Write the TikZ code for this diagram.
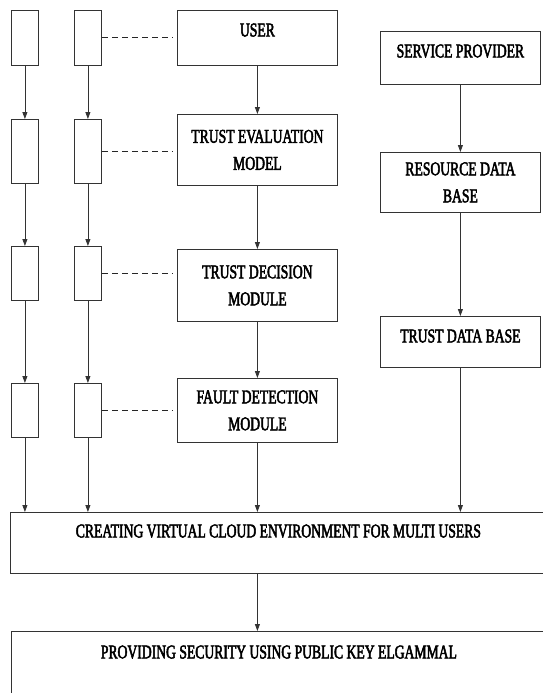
\documentclass[tikz,border=0pt]{standalone}
\usepackage{fontspec}
\setmainfont{Liberation Serif}[FakeStretch=0.7,FakeBold=2.5]
\usetikzlibrary{arrows.meta}

\begin{document}
\begin{tikzpicture}[x=1pt, y=-1pt,
    every node/.style={font=\fontsize{19.5}{27}\selectfont},
    box/.style={draw=black!80, line width=0.8pt, inner sep=0pt, anchor=north west, align=center},
    slot/.style={draw=black!80, line width=0.8pt, inner sep=0pt, anchor=north west, minimum width=27pt},
    arr/.style={draw=black!80, line width=0.8pt, -{Triangle[width=5pt, length=7pt]}},
    link/.style={draw=black!85, line width=0.9pt, dash pattern=on 6pt off 4pt, shorten >=5pt}]
  \useasboundingbox (0,0) rectangle (542,693);

  % the two columns of small boxes
  \node[slot, minimum height=55pt] (a1) at (11,10) {};
  \node[slot, minimum height=64pt] (a2) at (11,119) {};
  \node[slot, minimum height=54pt] (a3) at (11,246) {};
  \node[slot, minimum height=54pt] (a4) at (11,383) {};
  \node[slot, minimum height=55pt] (b1) at (74,10) {};
  \node[slot, minimum height=64pt] (b2) at (74,119) {};
  \node[slot, minimum height=54pt] (b3) at (74,246) {};
  \node[slot, minimum height=54pt] (b4) at (74,383) {};

  % middle column
  \node[box, minimum width=160pt, text height=26pt, text depth=29pt] (user) at (177,10) {USER};
  \node[box, minimum width=160pt, minimum height=71pt] (teval) at (177,114) {TRUST EVALUATION\\MODEL};
  \node[box, minimum width=160pt, minimum height=72pt] (tdec) at (177,249) {TRUST DECISION\\MODULE};
  \node[box, minimum width=160pt, minimum height=64pt] (fault) at (177,378) {FAULT DETECTION\\MODULE};

  % right column
  \node[box, minimum width=160pt, text height=26pt, text depth=27pt] (prov) at (380,31) {SERVICE PROVIDER};
  \node[box, minimum width=160pt, minimum height=60pt] (rdb) at (380,152) {RESOURCE DATA\\BASE};
  \node[box, minimum width=160pt, text height=26pt, text depth=25pt] (tdb) at (380,316) {TRUST DATA BASE};

  % bottom
  \node[box, minimum width=536pt, text height=25pt, text depth=36pt] (create) at (10,512) {CREATING VIRTUAL CLOUD ENVIRONMENT FOR MULTI USERS};
  \node[box, minimum width=535pt, text height=27pt, text depth=42pt] (secure) at (11,631) {PROVIDING SECURITY USING PUBLIC KEY ELGAMMAL};

  \draw[arr] (a1) -- (a2);
  \draw[arr] (a2) -- (a3);
  \draw[arr] (a3) -- (a4);
  \draw[arr] (a4) -- (a4 |- create.north);
  \draw[arr] (b1) -- (b2);
  \draw[arr] (b2) -- (b3);
  \draw[arr] (b3) -- (b4);
  \draw[arr] (b4) -- (b4 |- create.north);

  \draw[arr] (user) -- (teval);
  \draw[arr] (teval) -- (tdec);
  \draw[arr] (tdec) -- (fault);
  \draw[arr] (fault) -- (fault |- create.north);

  \draw[arr] (prov) -- (rdb);
  \draw[arr] (rdb) -- (tdb);
  \draw[arr] (tdb) -- (tdb |- create.north);

  \draw[arr] (create.south -| fault.south) -- (secure.north -| fault.south);

  \draw[link] (b1.east) -- (b1.east -| user.west);
  \draw[link] (b2.east) -- (b2.east -| teval.west);
  \draw[link] (b3.east) -- (b3.east -| tdec.west);
  \draw[link] (b4.east) -- (b4.east -| fault.west);
\end{tikzpicture}
\end{document}
